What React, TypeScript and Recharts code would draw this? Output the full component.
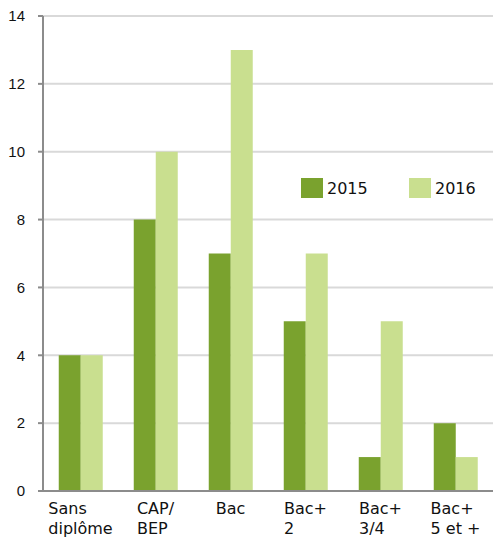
import React from "react";
import { BarChart, Bar, XAxis, YAxis, CartesianGrid } from "recharts";

const categories = ["Sans diplôme", "CAP/ BEP", "Bac", "Bac+ 2", "Bac+ 3/4", "Bac+ 5 et +"];
const categoryLines = [["Sans", "diplôme"], ["CAP/", "BEP"], ["Bac"], ["Bac+", "2"], ["Bac+", "3/4"], ["Bac+", "5 et +"]];
const values2015 = [4, 8, 7, 5, 1, 2];
const values2016 = [4, 10, 13, 7, 5, 1];
const yTicks = [0, 2, 4, 6, 8, 10, 12, 14];
const seriesNames = ["2015", "2016"];

const data = categories.map((c, i) => ({ name: c, y2015: values2015[i], y2016: values2016[i] }));

const DARK = "#7AA22E";
const LIGHT = "#C9DF8F";
const LABEL_FAMILY = "'DejaVu Sans', sans-serif";
const LABEL_FONT = "16px 'DejaVu Sans', sans-serif";

let canvasCtx: CanvasRenderingContext2D | null = null;
function measure(t: string): number {
  if (!canvasCtx) {
    const c = document.createElement("canvas");
    canvasCtx = c.getContext("2d");
  }
  if (!canvasCtx) return t.length * 9;
  canvasCtx.font = LABEL_FONT;
  return canvasCtx.measureText(t).width;
}

const XTick = (props: any) => {
  const { x, y, index } = props;
  const lines: string[] = categoryLines[index] || [];
  const w = Math.max(...lines.map(measure));
  const left = x - w / 2;
  return (
    <g>
      {lines.map((l, i) => (
        <text
          key={i}
          x={left}
          y={y + 15 + i * 20}
          textAnchor="start"
          fill="#111"
          fontSize={16}
          fontFamily={LABEL_FAMILY}
        >
          {l}
        </text>
      ))}
    </g>
  );
};

export default function App() {
  return (
    <div style={{ position: "absolute", left: 0, top: 0, width: 493, height: 537, background: "#fff" }}>
      <BarChart
        width={493}
        height={537}
        data={data}
        margin={{ top: 16, right: 0, bottom: 0, left: 0 }}
        barCategoryGap="21%"
        barGap={0}
      >
        <CartesianGrid vertical={false} stroke="#D9D9D9" strokeWidth={2} />
        <XAxis
          dataKey="name"
          interval={0}
          height={46}
          tick={<XTick />}
          tickLine={false}
          axisLine={{ stroke: "#8C8C8C", strokeWidth: 2 }}
        />
        <YAxis
          width={43}
          domain={[0, 14]}
          ticks={yTicks}
          interval={0}
          tickSize={5}
          tickMargin={13}
          tickLine={{ stroke: "#8C8C8C", strokeWidth: 2 }}
          axisLine={{ stroke: "#8C8C8C", strokeWidth: 2 }}
          tick={{ fill: "#111", fontSize: 15, fontFamily: "'Liberation Sans', Arial, sans-serif" }}
        />
        <Bar dataKey="y2015" fill={DARK} isAnimationActive={false} />
        <Bar dataKey="y2016" fill={LIGHT} isAnimationActive={false} />
      </BarChart>
      <div style={{ position: "absolute", left: 301, top: 177, width: 200, height: 24, fontFamily: LABEL_FAMILY, fontSize: 16, color: "#111" }}>
        <div style={{ position: "absolute", left: 0, top: 1, width: 22, height: 20, background: DARK }} />
        <div style={{ position: "absolute", left: 26, top: 0, lineHeight: "24px" }}>{seriesNames[0]}</div>
        <div style={{ position: "absolute", left: 108, top: 1, width: 22, height: 20, background: LIGHT }} />
        <div style={{ position: "absolute", left: 134, top: 0, lineHeight: "24px" }}>{seriesNames[1]}</div>
      </div>
    </div>
  );
}
